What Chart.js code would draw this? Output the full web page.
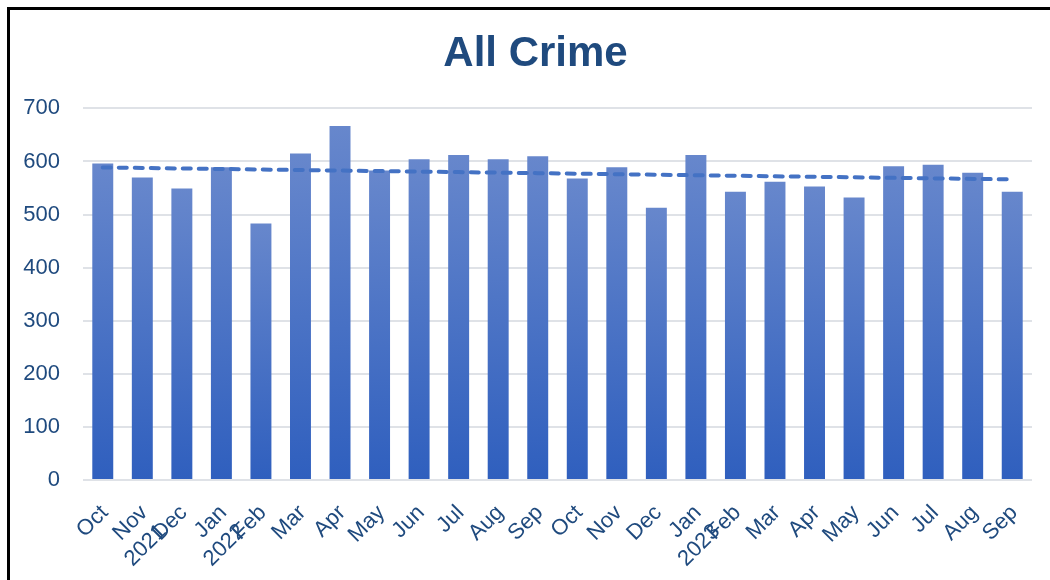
<!DOCTYPE html>
<html>
<head>
<meta charset="utf-8">
<script src="https://cdn.jsdelivr.net/npm/chart.js@4"></script>
<style>
  html, body { margin: 0; padding: 0; background: #ffffff; overflow: hidden; width: 1050px; height: 580px; }
  #frame { position: absolute; left: 7px; top: 7px; width: 1070px; height: 640px; border: 3px solid #000; box-sizing: border-box; }
  #c { position: absolute; left: 10px; top: 10px; }
</style>
</head>
<body>
<div id="frame"></div>
<canvas id="c" width="1051" height="582" style="width:1051px;height:582px"></canvas>
<script>
const chartTitle = 'All Crime';
const categories = ['Oct', ['Nov', '2021'], 'Dec', ['Jan', '2022'], 'Feb', 'Mar', 'Apr', 'May', 'Jun', 'Jul', 'Aug', 'Sep',
                    'Oct', 'Nov', 'Dec', ['Jan', '2023'], 'Feb', 'Mar', 'Apr', 'May', 'Jun', 'Jul', 'Aug', 'Sep'];
const crimeCounts = [596, 570, 549, 589, 483, 615, 667, 583, 604, 612, 604, 610,
                     568, 589, 513, 612, 543, 562, 553, 532, 591, 594, 579, 543];
const yTicks = [0, 100, 200, 300, 400, 500, 600, 700];

// Linear trendline (least squares) derived from the series
function linearTrend(vals) {
  const n = vals.length;
  let sx = 0, sy = 0, sxy = 0, sxx = 0;
  vals.forEach((v, i) => { sx += i; sy += v; sxy += i * v; sxx += i * i; });
  const b = (n * sxy - sx * sy) / (n * sxx - sx * sx);
  const a = (sy - b * sx) / n;
  return vals.map((_, i) => a + b * i);
}
const trendValues = linearTrend(crimeCounts);

const textColor = '#1f4a7e';
const fontFamily = "'Liberation Sans', Arial, Helvetica, sans-serif";

function barGradient(ctx) {
  const chart = ctx.chart;
  const ys = chart.scales && chart.scales.y;
  if (!chart.chartArea || !ys || ctx.raw == null) return '#4a72c6';
  const top = ys.getPixelForValue(ctx.raw);
  const bot = ys.getPixelForValue(0);
  if (!isFinite(top) || !isFinite(bot) || top === bot) return '#4a72c6';
  const g = chart.ctx.createLinearGradient(0, top, 0, bot);
  g.addColorStop(0, '#6787cc');
  g.addColorStop(1, '#2f5fbe');
  return g;
}

// Center the title over the whole framed panel rather than the padded area
const centerTitle = {
  id: 'centerTitle',
  afterLayout(chart) {
    if (chart.titleBlock) {
      chart.titleBlock.left = 0;
      chart.titleBlock.right = chart.width;
    }
  }
};

new Chart(document.getElementById('c'), {
  data: {
    labels: categories,
    datasets: [
      {
        type: 'line',
        label: 'Trend',
        data: trendValues,
        borderColor: '#4472c4',
        borderWidth: 4,
        borderDash: [8, 8],
        borderCapStyle: 'round',
        pointRadius: 0,
        fill: false,
        tension: 0,
        order: 0
      },
      {
        type: 'bar',
        label: 'All Crime',
        data: crimeCounts,
        backgroundColor: barGradient,
        borderWidth: 0,
        barPercentage: 0.53,
        categoryPercentage: 1.0,
        order: 1
      }
    ]
  },
  plugins: [centerTitle],
  options: {
    responsive: false,
    animation: false,
    devicePixelRatio: 1,
    layout: { padding: { left: 8, right: 29, top: 0, bottom: 0 } },
    plugins: {
      legend: { display: false },
      tooltip: { enabled: false },
      title: {
        display: true,
        text: chartTitle,
        color: textColor,
        font: { family: fontFamily, size: 42, weight: 'bold' },
        padding: { top: 19, bottom: 29 }
      }
    },
    scales: {
      x: {
        grid: { display: false, drawTicks: false },
        border: { display: false },
        ticks: {
          color: textColor,
          font: { family: fontFamily, size: 22 },
          minRotation: 45,
          maxRotation: 45,
          autoSkip: false,
          padding: 20,
          labelOffset: 2
        }
      },
      y: {
        min: 0,
        max: 700,
        afterBuildTicks: (axis) => { axis.ticks = yTicks.map(v => ({ value: v })); },
        afterFit: (axis) => { axis.width = 65; },
        grid: { color: '#dfe2e7', lineWidth: 2, drawTicks: false },
        border: { display: false },
        ticks: {
          color: textColor,
          font: { family: fontFamily, size: 22 },
          padding: 23
        }
      }
    }
  }
});
</script>
</body>
</html>
